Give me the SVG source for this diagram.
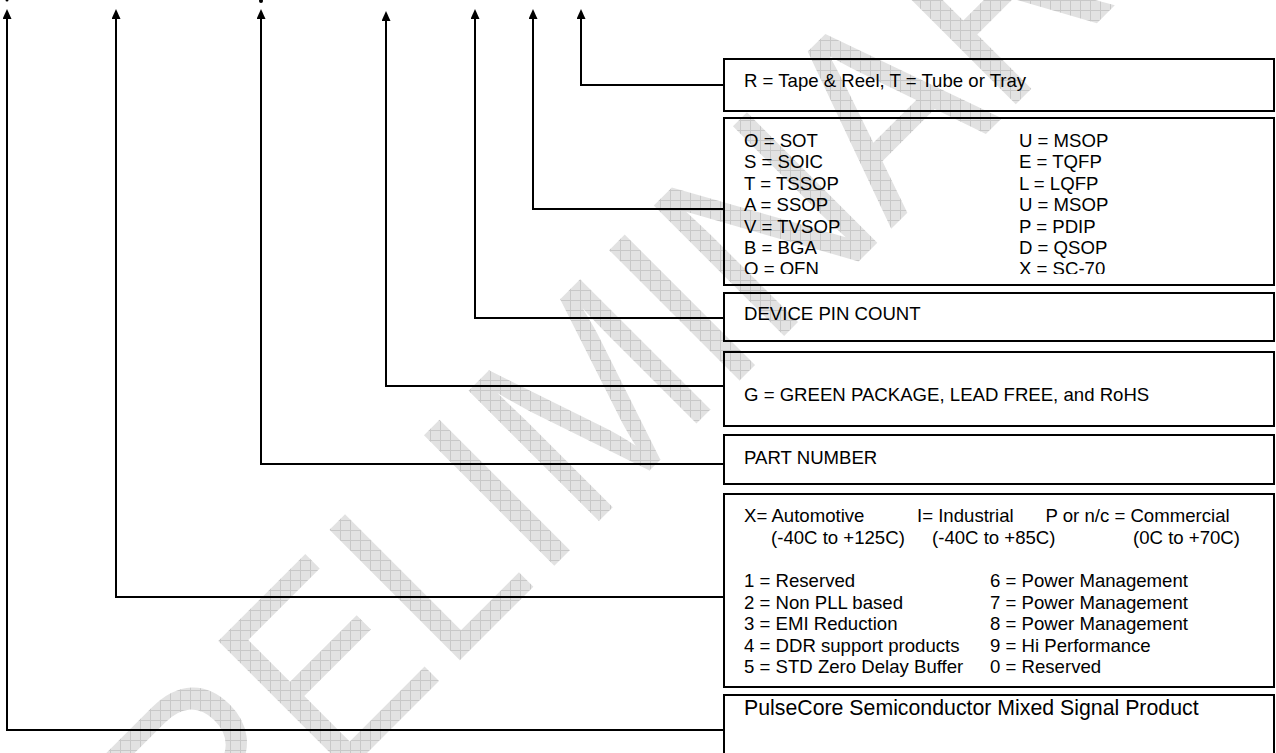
<svg xmlns="http://www.w3.org/2000/svg" width="1276" height="753" viewBox="0 0 1276 753">
<defs>
<style>
.box{fill:none;stroke:#000;stroke-width:2}
.conn{fill:none;stroke:#000;stroke-width:2;marker-end:url(#ah)}
.t{font-family:"Liberation Sans",Arial,Helvetica,sans-serif;font-size:18.6px;fill:#000}
.big{font-size:21.3px}
.wm{font-family:"Liberation Sans",Arial,sans-serif;font-size:268px;fill:#fff}
</style>
<marker id="ah" viewBox="0 0 10 9" refX="0" refY="4.5" markerWidth="10" markerHeight="9" markerUnits="userSpaceOnUse" orient="auto">
<path d="M0,0 L10,4.5 L0,9 z" fill="#000"/>
</marker>
<pattern id="grid" width="10" height="10" patternUnits="userSpaceOnUse">
<rect width="10" height="10" fill="#e2e2e2"/>
<path d="M0 .5H10M.5 0V10" stroke="#c8c8c8" stroke-width="1"/>
</pattern>
<mask id="wmMask" maskUnits="userSpaceOnUse" x="0" y="0" width="1276" height="753">
<g transform="rotate(-45)">
<text class="wm" transform="scale(0.88,1)" x="-734" y="792">PRELIMINARY</text>
</g>
</mask>
<clipPath id="clipPkg"><rect x="724" y="118" width="550" height="156"/></clipPath>
</defs>

<g id="watermark">
<rect width="1276" height="753" fill="url(#grid)" mask="url(#wmMask)"/>
</g>

<g id="top-marks">
<circle cx="261" cy="1" r="2" fill="#000"/>
<circle cx="7" cy="0" r="1.5" fill="#000"/>
</g>

<g id="connectors">
<path class="conn" d="M724 85 H581 V19"/>
<path class="conn" d="M724 209 H533 V19"/>
<path class="conn" d="M724 318 H475 V19"/>
<path class="conn" d="M724 386 H386 V21"/>
<path class="conn" d="M724 464 H261 V19"/>
<path class="conn" d="M724 597 H116 V19"/>
<path class="conn" d="M724 730 H7 V19"/>
</g>

<g id="node-packing">
<rect class="box" x="724" y="59" width="550" height="52"/>
<text class="t" x="744" y="87">R = Tape &amp; Reel, T = Tube or Tray</text>
</g>

<g id="node-package">
<rect class="box" x="724" y="118" width="550" height="167"/>
<g clip-path="url(#clipPkg)">
<text class="t" x="744" y="147">O = SOT</text>
<text class="t" x="744" y="168.4">S = SOIC</text>
<text class="t" x="744" y="189.8">T = TSSOP</text>
<text class="t" x="744" y="211.2">A = SSOP</text>
<text class="t" x="744" y="232.6">V = TVSOP</text>
<text class="t" x="744" y="254">B = BGA</text>
<text class="t" x="744" y="275.4">Q = QFN</text>
<text class="t" x="1019" y="147">U = MSOP</text>
<text class="t" x="1019" y="168.4">E = TQFP</text>
<text class="t" x="1019" y="189.8">L = LQFP</text>
<text class="t" x="1019" y="211.2">U = MSOP</text>
<text class="t" x="1019" y="232.6">P = PDIP</text>
<text class="t" x="1019" y="254">D = QSOP</text>
<text class="t" x="1019" y="275.4">X = SC-70</text>
</g>
</g>

<g id="node-pincount">
<rect class="box" x="724" y="293" width="550" height="48"/>
<text class="t" x="744" y="320">DEVICE PIN COUNT</text>
</g>

<g id="node-green">
<rect class="box" x="724" y="352" width="550" height="74"/>
<text class="t" x="744" y="401">G = GREEN PACKAGE, LEAD FREE, and RoHS</text>
</g>

<g id="node-partnumber">
<rect class="box" x="724" y="435" width="550" height="49"/>
<text class="t" x="744" y="464">PART NUMBER</text>
</g>

<g id="node-grade">
<rect class="box" x="724" y="494" width="550" height="193"/>
<text class="t" x="744" y="522">X= Automotive</text>
<text class="t" x="917" y="522">I= Industrial</text>
<text class="t" x="1045.5" y="522">P or n/c = Commercial</text>
<text class="t" x="771" y="544">(-40C to +125C)</text>
<text class="t" x="932" y="544">(-40C to +85C)</text>
<text class="t" x="1133" y="544">(0C to +70C)</text>
<text class="t" x="744" y="587">1 = Reserved</text>
<text class="t" x="744" y="608.5">2 = Non PLL based</text>
<text class="t" x="744" y="630">3 = EMI Reduction</text>
<text class="t" x="744" y="651.5">4 = DDR support products</text>
<text class="t" x="744" y="673">5 = STD Zero Delay Buffer</text>
<text class="t" x="990" y="587">6 = Power Management</text>
<text class="t" x="990" y="608.5">7 = Power Management</text>
<text class="t" x="990" y="630">8 = Power Management</text>
<text class="t" x="990" y="651.5">9 = Hi Performance</text>
<text class="t" x="990" y="673">0 = Reserved</text>
</g>

<g id="node-family">
<rect class="box" x="724" y="695" width="550" height="80"/>
<text class="t big" x="744" y="715">PulseCore Semiconductor Mixed Signal Product</text>
</g>
</svg>
